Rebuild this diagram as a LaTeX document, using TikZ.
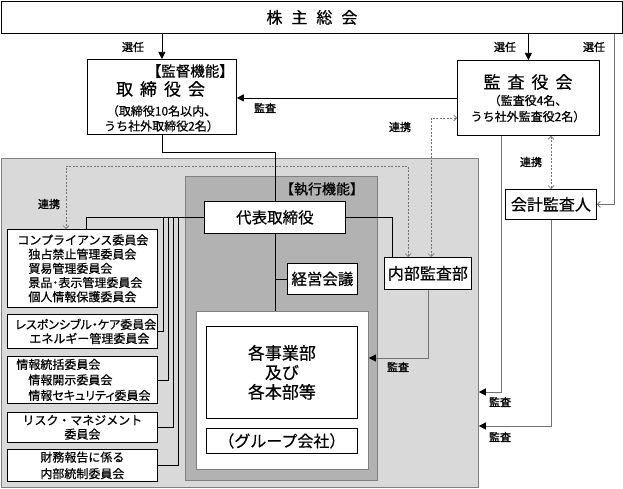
\documentclass[tikz,border=0pt]{standalone}
\usepackage{fontspec}
\setmainfont{Noto Sans CJK JP}[FakeBold=0.5,AutoFakeBold=0.5]
\newfontfamily\pfont[RawFeature=+palt,FakeBold=0.5]{Noto Sans CJK JP}
\newfontfamily\lblfont[FakeBold=1.4]{Noto Sans CJK JP}
\usetikzlibrary{arrows.meta}
\begin{document}
\begin{tikzpicture}[x=1pt,y=-1pt,
  box/.style={draw=black, line width=0.8pt, fill=white, inner sep=0pt, anchor=north west},
  region/.style={draw=black!50, line width=0.8pt, inner sep=0pt, anchor=north west},
  txt/.style={inner sep=0pt, align=center},
  lbl/.style={inner sep=0pt, font=\lblfont\fontsize{11}{12}\selectfont},
  conn/.style={draw=black, line width=0.7pt},
  gconn/.style={draw=black!55, line width=0.8pt},
  fa/.style={arrows={-Triangle[length=7pt,width=7pt,color=black]}},
  oa/.style={arrows={-Straight Barb[length=3pt,width=6pt]}},
  dotl/.style={draw=black!55, line width=0.7pt, dash pattern=on 2pt off 1.5pt,
     arrows={Straight Barb[length=3pt,width=6pt]-Straight Barb[length=3pt,width=6pt]}},
]
\path[use as bounding box, fill=white] (0,0) rectangle (623,489);

% regions
\node[region, fill=black!15, minimum width=477pt, minimum height=329pt] (lg) at (1,158) {};
\node[region, fill=black!30, minimum width=192pt, minimum height=304pt] (dg) at (185,176) {};
\node[txt, font=\fontsize{14}{16}\selectfont] (exl) at (322,189) {【執行機能】};
\node[box, draw=black!50, minimum width=172pt, minimum height=158pt] (wb) at (196,311) {};

% top
\node[box, minimum width=621pt, minimum height=32pt, font=\fontsize{16}{18}\selectfont] (sh) at (1,1) {株\hspace{9pt}主\hspace{9pt}総\hspace{9pt}会};

% board
\node[box, minimum width=149pt, minimum height=75pt] (tb) at (87,59) {};
\node[txt, anchor=east, font=\fontsize{14.5}{16}\selectfont] (tbh) at (234,71) {【監督機能】};
\node[txt, font=\fontsize{17}{18}\selectfont] (tbt) at (160.5,89) {取\hspace{7pt}締\hspace{7pt}役\hspace{7pt}会};
\node[txt, font=\fontsize{12}{15}\selectfont] (tbs) at (161.5,118.5) {（取締役10名以内、\\うち社外取締役2名）};

% auditors
\node[box, minimum width=142pt, minimum height=75pt] (ka) at (457,60) {};
\node[txt, font=\fontsize{17}{18}\selectfont] (kat) at (528,82) {監\hspace{7pt}査\hspace{7pt}役\hspace{7pt}会};
\node[txt, font=\fontsize{12}{16}\selectfont] (kas) at (528,108.5) {（監査役4名、\\うち社外監査役2名）};

\node[box, minimum width=91pt, minimum height=30pt, font=\fontsize{16}{18}\selectfont] (kk) at (505,189) {会計監査人};

% execution
\node[box, minimum width=141pt, minimum height=32pt, font=\fontsize{15.5}{18}\selectfont] (dh) at (204,201) {代表取締役};
\node[box, minimum width=70pt, minimum height=31pt, font=\fontsize{15.5}{18}\selectfont] (km) at (287,263) {経営会議};
\node[box, minimum width=87pt, minimum height=32pt, font=\fontsize{16}{18}\selectfont] (nb) at (384,257) {内部監査部};
\node[box, minimum width=151pt, minimum height=92pt, align=center, font=\fontsize{17}{19.5}\selectfont] (jg) at (206,326) {各事業部\\及び\\各本部等};
\node[box, minimum width=151pt, minimum height=25pt, font=\fontsize{16}{18}\selectfont] (gr) at (206,428) {（グループ会社）};

% committees
\node[box, minimum width=150pt, minimum height=78pt, text width=150pt, align=left, font=\fontsize{12}{14.2}\selectfont] (c1) at (7,229)
 {\hspace*{10pt}コンプライアンス委員会\\\hspace*{21pt}独占禁止管理委員会\\\hspace*{21pt}貿易管理委員会\\\hspace*{21pt}景品･表示管理委員会\\\hspace*{21pt}個人情報保護委員会};
\node[box, minimum width=150pt, minimum height=34pt, text width=150pt, align=left, font=\fontsize{12}{14}\selectfont] (c2) at (7,314)
 {\hspace*{8pt}{\pfont レスポンシブル・ケア委員会}\\\hspace*{22pt}エネルギー管理委員会};
\node[box, minimum width=150pt, minimum height=47pt, text width=150pt, align=left, font=\fontsize{12}{15.5}\selectfont] (c3) at (7,356)
 {\hspace*{9pt}情報統括委員会\\\hspace*{21pt}情報開示委員会\\\hspace*{21pt}{\pfont 情報セキュリティ委員会}};
\node[box, minimum width=150pt, minimum height=30pt, align=center, font=\fontsize{12}{14}\selectfont] (c4) at (7,412) {リスク・マネジメント\\委員会};
\node[box, minimum width=150pt, minimum height=32pt, align=center, font=\fontsize{12}{16.5}\selectfont] (c5) at (7,449) {財務報告に係る\\内部統制委員会};

% helper coordinates
\coordinate (xr) at (614,0);
\coordinate (y152) at (0,152);
\coordinate (x392) at (392,0);
\coordinate (x86) at (86,0);
\coordinate (v1) at (163,0);
\coordinate (v2) at (168,0);
\coordinate (v3) at (173,0);
\coordinate (v4) at (178,0);
\coordinate (y358) at (0,358);
\coordinate (x501) at (501,0);
\coordinate (y392) at (0,392);
\coordinate (y426) at (0,426);
\coordinate (x551) at (551,0);
\coordinate (x408) at (408,0);
\coordinate (y166) at (0,166);
\coordinate (x66) at (66,0);
\coordinate (x431) at (431,0);
\coordinate (y118) at (0,118);

% connectors
\draw[conn, fa] (sh.south -| tb.north) -- (tb.north);
\draw[conn, fa] (sh.south -| ka.north) -- (ka.north);
\draw[gconn, oa] (sh.south -| xr) |- (kk.east);
\draw[conn, fa] (ka.west) -- (ka.west -| tb.east);
\draw[conn] (tb.south) -- (tb.south |- y152) -| (dh.north);
\draw[conn] (dh.east) -| (nb.north -| x392);
\draw[conn] (dh.west) -| (c1.north -| x86);
\draw[conn] (dh.west -| v1) |- (c2.east);
\draw[conn] (dh.west -| v2) |- (c3.east);
\draw[conn] (dh.west -| v3) |- (c4.east);
\draw[conn] (dh.west -| v4) |- (c5.east);
\draw[conn] (dh.south) -- (dh.south |- wb.north);
\draw[conn] (dh.south |- km.west) -- (km.west);
\draw[gconn, fa] (nb.south) |- (wb.east |- y358);
\draw[gconn, fa] (ka.south -| x501) |- (lg.east |- y392);
\draw[gconn, fa] (kk.south) |- (lg.east |- y426);
\draw[dotl] (ka.south -| x551) -- (kk.north -| x551);
\draw[dotl] (nb.north -| x408) |- (x66 |- y166) -- (c1.north -| x66);
\draw[dotl] (nb.north -| x431) |- (ka.west |- y118);

% labels
\node[lbl] (s1) at (133,47) {選任};
\node[lbl] (s2) at (505,47) {選任};
\node[lbl] (s3) at (594,47) {選任};
\node[lbl] (m1) at (265,108) {監査};
\node[lbl] (r1) at (400,127) {連携};
\node[lbl] (r2) at (49,204) {連携};
\node[lbl] (r3) at (531,162) {連携};
\node[lbl] (m2) at (398,367) {監査};
\node[lbl] (m3) at (500,402) {監査};
\node[lbl] (m4) at (500,437) {監査};
\end{tikzpicture}
\end{document}
